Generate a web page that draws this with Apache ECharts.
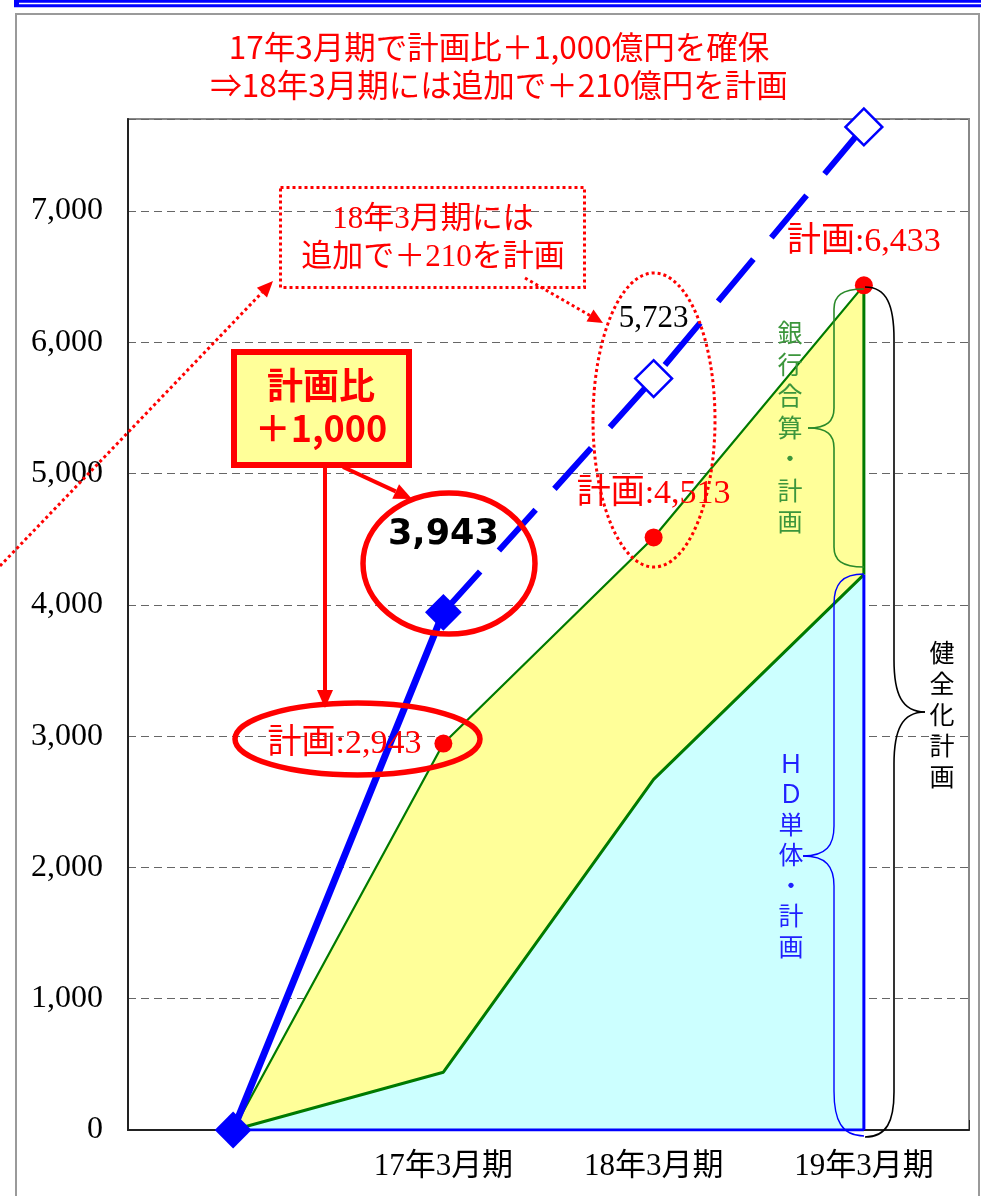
<!DOCTYPE html>
<html><head><meta charset="utf-8">
<script src="https://cdn.jsdelivr.net/npm/echarts@6/dist/echarts.min.js"></script>
<style>html,body{margin:0;padding:0;background:#fff}#c{width:981px;height:1196px}</style>
</head><body><div id="c"></div>
<script>
// ---- data ----
const categories = ['', '17年3月期', '18年3月期', '19年3月期'];
const actualValues = [0, 3943];
const forecastValues = [null, 3943, 5723, 7640];
const planTotal = [0, 2943, 4513, 6433];
const planHD = [0, 440, 2670, 4230];
const baseValues = [0, 0, 0, 0];
const yMin = 0, yMax = 7700, yStep = 1000;
const titleLines = ['17年3月期で計画比＋1,000億円を確保', '⇒18年3月期には追加で＋210億円を計画'];
const boxText = ['計画比', '＋1,000'];
const noteText = ['18年3月期には', '追加で＋210を計画'];
const bankText = '銀行合算・計画';
const hdText = 'ＨＤ単体・計画';
const totalText = '健全化計画';

// ---- style ----
const RED = '#ff0000', BLUE = '#0000ff', GREEN = '#007a00';
const SERIF = '"Liberation Serif", "Noto Sans CJK JP"';
const SANS = '"Noto Sans CJK JP"';
const fmt = v => v.toLocaleString('en-US');
const last = planTotal.length - 1;

function arrow(x1, y1, x2, y2, w, head, hw, dash) {
  const dx = x2 - x1, dy = y2 - y1, L = Math.hypot(dx, dy), ux = dx / L, uy = dy / L;
  const bx = x2 - ux * head, by = y2 - uy * head, px = -uy * hw, py = ux * hw;
  return [
    {type: 'line', z: 50, shape: {x1, y1, x2: bx, y2: by}, style: {stroke: RED, lineWidth: w, lineDash: dash || null}},
    {type: 'polygon', z: 50, shape: {points: [[x2, y2], [bx + px, by + py], [bx - px, by - py]]}, style: {fill: RED}}
  ];
}
function brace(ex, y0, y1, sx, tx, ty, r, rb, color, w) {
  const st = {stroke: color, lineWidth: w, fill: null};
  const k = 0.25, q = 0.35;
  return [
    {type: 'bezierCurve', z: 40, shape: {x1: ex, y1: y0, x2: sx, y2: y0 + r, cpx1: sx + (ex - sx) * k, cpy1: y0, cpx2: sx, cpy2: y0 + r * q}, style: st},
    {type: 'line', z: 40, shape: {x1: sx, y1: y0 + r, x2: sx, y2: ty - r}, style: st},
    {type: 'bezierCurve', z: 40, shape: {x1: sx, y1: ty - r, x2: tx, y2: ty, cpx1: sx, cpy1: ty - r * q, cpx2: sx + (tx - sx) * k, cpy2: ty}, style: st},
    {type: 'bezierCurve', z: 40, shape: {x1: tx, y1: ty, x2: sx, y2: ty + r, cpx1: sx + (tx - sx) * k, cpy1: ty, cpx2: sx, cpy2: ty + r * q}, style: st},
    {type: 'line', z: 40, shape: {x1: sx, y1: ty + r, x2: sx, y2: y1 - rb}, style: st},
    {type: 'bezierCurve', z: 40, shape: {x1: sx, y1: y1 - rb, x2: ex, y2: y1, cpx1: sx, cpy1: y1 - rb * q, cpx2: sx + (ex - sx) * k, cpy2: y1}, style: st}
  ];
}
function txt(text, x, y, font, fill, extra) {
  return {type: 'text', z: 60, style: Object.assign({
    text, x, y, font, fill, align: 'center', verticalAlign: 'middle', textAlign: 'center', textVerticalAlign: 'middle'
  }, extra || {})};
}
function vtxt(text, x, yTop, size, lh, fill) {
  return {type: 'text', z: 60, style: {
    text: text.split('').join('\n'), x, y: yTop, font: size + 'px ' + SANS, fill, lineHeight: lh,
    align: 'center', verticalAlign: 'top', textAlign: 'center', textVerticalAlign: 'top'
  }};
}

const graphics = [].concat(
  // page frame
  [{type: 'rect', z: 5, shape: {x: 14, y: 0, width: 967, height: 7.3}, style: {fill: BLUE}},
   {type: 'rect', z: 6, shape: {x: 19, y: 2.7, width: 962, height: 1.6}, style: {fill: '#fff'}},
   {type: 'polyline', z: 5, shape: {points: [[16, 1196], [16, 14], [979, 14], [979, 1196]]}, style: {stroke: '#9a9a9a', lineWidth: 2, fill: null}}],
  // title
  [txt(titleLines[0], 499, 47, '31.5px ' + SANS, RED), txt(titleLines[1], 499, 85, '31.5px ' + SANS, RED)],
  // dotted note box and arrows
  [{type: 'rect', z: 50, shape: {x: 280.5, y: 187.5, width: 304, height: 100}, style: {fill: null, stroke: RED, lineWidth: 3, lineDash: [3, 3]}},
   txt(noteText.join('\n'), 433, 238.5, '31px ' + SERIF, RED, {lineHeight: 38})],
  arrow(525, 278, 603, 323, 3, 15, 7, [3, 3]),
  arrow(0, 566, 273, 281, 3, 16, 7, [3, 3]),
  [{type: 'ellipse', z: 50, shape: {cx: 654, cy: 420, rx: 61, ry: 147}, style: {fill: null, stroke: RED, lineWidth: 3, lineDash: [3, 3]}}],
  // +1,000 box and arrows
  [{type: 'rect', z: 55, shape: {x: 234, y: 352, width: 175, height: 113}, style: {fill: '#FFFF99', stroke: RED, lineWidth: 6}},
   txt(boxText.join('\n'), 321, 407, 'bold 36px ' + SANS, RED, {lineHeight: 43})],
  arrow(343, 467, 412, 499, 4, 18, 8),
  arrow(325, 467, 325, 708, 4, 18, 8),
  [{type: 'ellipse', z: 50, shape: {cx: 449, cy: 563.5, rx: 86, ry: 70.5}, style: {fill: null, stroke: RED, lineWidth: 5.5}},
   {type: 'ellipse', z: 50, shape: {cx: 357.5, cy: 739, rx: 122.5, ry: 36}, style: {fill: null, stroke: RED, lineWidth: 5.5}}],
  // braces and side texts
  brace(864, 289, 567, 834, 808, 428, 20, 20, '#2a8a2a', 1.6),
  brace(864, 574, 1136, 834, 803, 856, 30, 45, BLUE, 1.4),
  brace(865, 287, 1137, 894, 925, 712, 52, 45, '#000', 1.6),
  [vtxt(bankText, 790, 317, 25, 31.5, '#3c963c'),
   vtxt(hdText, 791, 748, 25, 30.5, '#2020ff'),
   vtxt(totalText, 942, 636.5, 25, 31, '#000')]
);

const planLabelStyles = [
  null,
  {show: true, position: 'left', distance: 13},
  {show: true, position: 'top', distance: 17},
  {show: true, position: 'top', distance: 17}
];

const option = {
  animation: false,
  backgroundColor: '#fff',
  grid: {left: 128, right: 12, top: 119, bottom: 66, show: true, borderColor: '#888', borderWidth: 2, backgroundColor: 'transparent', containLabel: false, outerBoundsMode: 'none'},
  xAxis: {
    type: 'category', data: categories, boundaryGap: true,
    axisLine: {show: true, lineStyle: {color: '#222', width: 2}},
    axisTick: {show: true, inside: true, length: 10, lineStyle: {color: '#222', width: 1}},
    axisLabel: {show: true, fontSize: 31, fontFamily: SERIF, color: '#000', margin: 21, interval: 0},
    splitLine: {show: false}
  },
  yAxis: {
    type: 'value', min: yMin, max: yMax, interval: yStep,
    axisLine: {show: true, lineStyle: {color: '#222', width: 2}},
    axisTick: {show: false},
    axisLabel: {show: true, fontSize: 32, fontFamily: '"Liberation Serif"', color: '#000', margin: 25,
      formatter: v => (v % yStep === 0 ? fmt(v) : '')},
    splitLine: {show: true, lineStyle: {color: '#666', width: 1, type: [8, 5]}}
  },
  series: [
    {name: 'total', type: 'line', data: planTotal, symbol: 'none', z: 1,
      lineStyle: {color: GREEN, width: 2.2}, areaStyle: {color: '#FFFF99', opacity: 1}},
    {name: 'hd', type: 'line', data: planHD, symbol: 'none', z: 1,
      lineStyle: {color: GREEN, width: 3}, areaStyle: {color: '#CCFFFF', opacity: 1}},
    {name: 'base', type: 'line', data: baseValues, symbol: 'none', z: 2, lineStyle: {color: BLUE, width: 3}},
    {name: 'hdEdge', type: 'line', data: [[last, baseValues[last]], [last, planHD[last]]], symbol: 'none', z: 2, lineStyle: {color: BLUE, width: 3}},
    {name: 'bankEdge', type: 'line', data: [[last, planHD[last]], [last, planTotal[last]]], symbol: 'none', z: 2, lineStyle: {color: GREEN, width: 3}},
    {name: 'actual', type: 'line', z: 8,
      data: actualValues.map((v, i) => i === actualValues.length - 1 ? {value: v, label: {show: true}} : v),
      symbol: 'rect', symbolSize: 26, symbolRotate: 45, showSymbol: true, showAllSymbol: true,
      itemStyle: {color: BLUE, opacity: 1}, lineStyle: {color: BLUE, width: 7},
      label: {show: false, position: 'top', distance: 41, formatter: p => fmt(p.value),
        fontFamily: '"DejaVu Sans"', fontWeight: 'bold', fontSize: 35, color: '#000'}},
    {name: 'forecast', type: 'line', z: 7,
      data: forecastValues.map((v, i) => (i === 1 ? {value: v, symbol: 'none'} : i === 2 ? {value: v, label: {show: true}} : v)),
      symbol: 'rect', symbolSize: 26, symbolRotate: 45, showSymbol: true, showAllSymbol: true,
      itemStyle: {color: '#fff', borderColor: BLUE, borderWidth: 2.5, opacity: 1},
      lineStyle: {color: BLUE, width: 6, type: [55, 28], cap: 'butt'},
      label: {show: false, position: 'top', distance: 24, formatter: p => fmt(p.value),
        fontFamily: SERIF, fontSize: 31, color: '#000'}},
    {name: 'planDots', type: 'scatter', z: 9,
      data: planTotal.map((v, i) => ({value: [i, v], label: planLabelStyles[i] || {show: false}})).slice(1),
      symbol: 'circle', symbolSize: 18, itemStyle: {color: RED, opacity: 1},
      label: {formatter: p => '計画:' + fmt(p.value[1]), fontFamily: SERIF, fontSize: 34, color: RED, opacity: 1}}
  ],
  graphic: {elements: graphics}
};

const chart = echarts.init(document.getElementById('c'), null, {renderer: 'canvas'});
chart.setOption(option);
</script>
</body></html>
